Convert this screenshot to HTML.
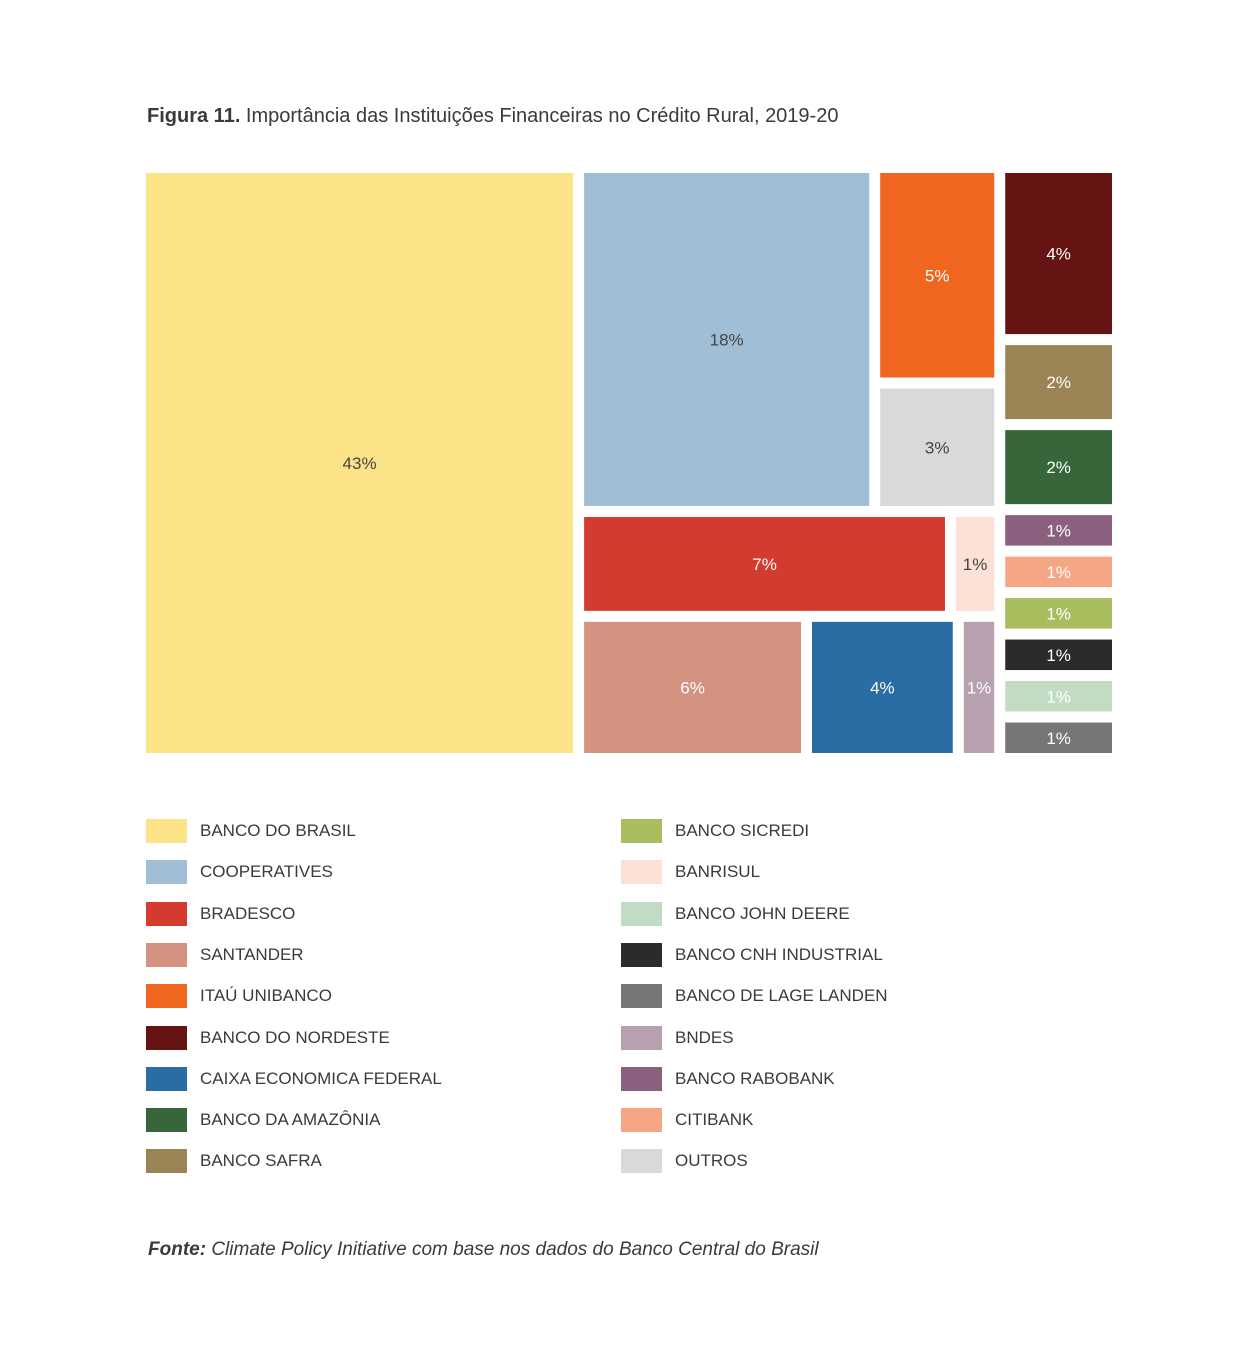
<!DOCTYPE html>
<html><head><meta charset="utf-8">
<style>
body{margin:0;background:#fff;font-family:"Liberation Sans",sans-serif;}
#wrap{position:relative;width:1241px;height:1355px;overflow:hidden;}
.title{position:absolute;left:147px;top:105px;font-size:20px;color:#3a3a3a;}
.src{position:absolute;left:148px;top:1239px;font-size:19px;color:#3a3a3a;font-style:italic;}
.lg{position:absolute;height:24px;}
.lg .sw{position:absolute;left:0;top:0;width:41px;height:24px;}
.lg .tx{position:absolute;left:54px;top:2px;font-size:17px;color:#3a3a3a;white-space:nowrap;}
</style></head><body>
<div id="wrap">
<div class="title"><b>Figura 11.</b> Importância das Instituições Financeiras no Crédito Rural, 2019-20</div>
<svg id="tm" width="1241" height="800" style="position:absolute;left:0;top:0"></svg>
<div id="legend"></div>
<div class="src"><b>Fonte:</b> Climate Policy Initiative com base nos dados do Banco Central do Brasil</div>
</div>
<script>
const names=["BANCO DO BRASIL","COOPERATIVES","BRADESCO","SANTANDER","ITAÚ UNIBANCO","BANCO DO NORDESTE","CAIXA ECONOMICA FEDERAL","BANCO DA AMAZÔNIA","BANCO SAFRA","BANCO SICREDI","BANRISUL","BANCO JOHN DEERE","BANCO CNH INDUSTRIAL","BANCO DE LAGE LANDEN","BNDES","BANCO RABOBANK","CITIBANK","OUTROS"];
const values=[45.2,18.5,6.6,5.7,4.7,3.7,3.7,1.7,1.7,0.7,0.7,0.7,0.7,0.7,0.8,0.7,0.7,2.7];
const labels=["43%","18%","7%","6%","5%","4%","4%","2%","2%","1%","1%","1%","1%","1%","1%","1%","1%","3%"];
const colors=["#fce388","#a0bed6","#d43b2f","#d49380","#f1661f","#661413","#2a6da5","#37663b","#9a8455","#a8bd5e","#fde0d6","#c2dbc3","#2b2b2d","#767678","#b7a0b0","#8a607e","#f5a684","#d9d9d9"];
const textCol=["#444","#444","#fff","#fff","#fff","#fff","#fff","#fff","#fff","#fff","#444","#fff","#fff","#fff","#fff","#fff","#fff","#444"];
// tree: h = horizontal split, v = vertical split, numbers = index into data
const tree={d:"h",c:[0,{d:"v",c:[{d:"h",c:[1,{d:"v",c:[4,17]}]},{d:"h",c:[2,10]},{d:"h",c:[3,6,14]}]},{d:"v",c:[5,8,7,15,16,9,12,11,13]}]};
const GAP=11, X0=146,Y0=173,W=966,H=580;
const svg=document.getElementById('tm');
const NS="http://www.w3.org/2000/svg";
function sum(n){return typeof n==="number"?values[n]:n.c.reduce((a,b)=>a+sum(b),0);}
function layout(n,x,y,w,h){
  if(typeof n==="number"){draw(n,x,y,w,h);return;}
  const tot=sum(n), avail=(n.d==="h"?w:h)-GAP*(n.c.length-1);
  let p=n.d==="h"?x:y;
  n.c.forEach(ch=>{const s=avail*sum(ch)/tot;
    if(n.d==="h")layout(ch,p,y,s,h);else layout(ch,x,p,w,s);
    p+=s+GAP;});
}
function draw(i,x,y,w,h){
  const r=document.createElementNS(NS,"rect");
  
  
  r.setAttribute("x",x);r.setAttribute("y",y);r.setAttribute("width",w);r.setAttribute("height",h);r.setAttribute("fill",colors[i]);
  svg.appendChild(r);
  const t=document.createElementNS(NS,"text");
  
  
  t.setAttribute("x",x+w/2);t.setAttribute("y",y+h/2+6);t.setAttribute("text-anchor","middle");
  t.setAttribute("font-size","17");t.setAttribute("fill",textCol[i]);t.setAttribute("font-family","Liberation Sans, sans-serif");
  t.textContent=labels[i];svg.appendChild(t);
}
layout(tree,X0,Y0,W,H);
const lg=document.getElementById('legend');
names.forEach((nm,i)=>{
  const col=i<9?0:1,row=i%9;
  const d=document.createElement('div');d.className='lg';
  
  
  d.style.left=(col?621:146)+'px';d.style.top=(819+row*41.3)+'px';
  d.innerHTML='<div class="sw" style="background:'+colors[i]+'"></div><div class="tx">'+nm+'</div>';
  lg.appendChild(d);
});
</script>
</body></html>
